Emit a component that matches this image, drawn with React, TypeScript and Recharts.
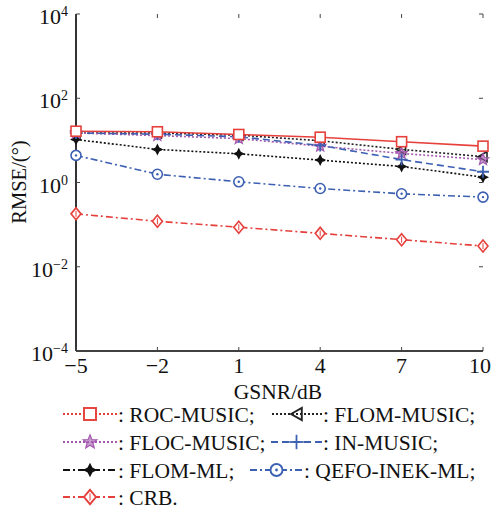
import { LineChart, Line, XAxis, YAxis } from 'recharts'

const gsnr = [-5, -2, 1, 4, 7, 10]
const rocMusic = [16.5, 16, 13.8, 11.9, 9.3, 7.3]
const flomMusic = [15, 15, 13.3, 9.8, 6.1, 4.1]
const flocMusic = [15, 13, 11, 7.3, 4.9, 3.5]
const inMusic = [15, 14, 12.2, 7.6, 3.5, 1.8]
const flomMl = [10.5, 6.1, 4.8, 3.4, 2.4, 1.34]
const qefoInekMl = [4.4, 1.57, 1.04, 0.72, 0.54, 0.45]
const crb = [0.18, 0.12, 0.087, 0.062, 0.044, 0.031]

const xTicks = [-5, -2, 1, 4, 7, 10]
const yTicks = [1e-4, 1e-2, 1, 1e2, 1e4]

const FONT = '"Liberation Serif", "Times New Roman", serif'

type Shape = 'square' | 'triangle' | 'star' | 'plus' | 'cross4' | 'circle' | 'diamond'

const series: { key: string, name: string, values: number[], color: string, dash: string, legendDash: string, shape: Shape }[] = [
  { key: 'crb', name: 'CRB.', values: crb, color: '#e5403c', dash: '7 3 2 3', legendDash: '7 3 2 3', shape: 'diamond' },
  { key: 'qefo', name: 'QEFO-INEK-ML;', values: qefoInekMl, color: '#3d60b3', dash: '7 3 2 3', legendDash: '7 3 2 3', shape: 'circle' },
  { key: 'flomMl', name: 'FLOM-ML;', values: flomMl, color: '#111111', dash: '2 2', legendDash: '7 3 2 3', shape: 'cross4' },
  { key: 'flomMusic', name: 'FLOM-MUSIC;', values: flomMusic, color: '#222222', dash: '2 2', legendDash: '2 2', shape: 'triangle' },
  { key: 'flocMusic', name: 'FLOC-MUSIC;', values: flocMusic, color: '#a45aae', dash: '2 2', legendDash: '2 2', shape: 'star' },
  { key: 'inMusic', name: 'IN-MUSIC;', values: inMusic, color: '#3d60b3', dash: '7 4', legendDash: '7 4', shape: 'plus' },
  { key: 'rocMusic', name: 'ROC-MUSIC;', values: rocMusic, color: '#e5403c', dash: '', legendDash: '2 2', shape: 'square' },
]

const data = gsnr.map((g, i) => {
  const row: Record<string, number> = { x: g }
  series.forEach(s => { row[s.key] = s.values[i] })
  return row
})

function Marker({ shape, x, y, color, s = 1 }: { shape: Shape, x: number, y: number, color: string, s?: number }) {
  const sw = 1.6 * s
  if (shape === 'square') return <rect x={x - 5 * s} y={y - 5 * s} width={10 * s} height={10 * s} fill="white" stroke={color} strokeWidth={sw} />
  if (shape === 'triangle') return <polygon points={`${x - 5 * s},${y} ${x + 4 * s},${y - 5 * s} ${x + 4 * s},${y + 5 * s}`} fill="none" stroke={color} strokeWidth={sw} />
  if (shape === 'star') {
    const pts: string[] = []
    for (let k = 0; k < 10; k++) {
      const r = (k % 2 === 0 ? 6 : 2.6) * s
      const a = -Math.PI / 2 + (k * Math.PI) / 5
      pts.push(`${x + r * Math.cos(a)},${y + r * Math.sin(a)}`)
    }
    return <polygon points={pts.join(' ')} fill={color} fillOpacity={0.6} stroke={color} strokeWidth={1.2} />
  }
  if (shape === 'plus') return <g stroke={color} strokeWidth={1.8}><line x1={x - 6 * s} y1={y} x2={x + 6 * s} y2={y} /><line x1={x} y1={y - 6 * s} x2={x} y2={y + 6 * s} /></g>
  if (shape === 'cross4') {
    const a = 6 * s, b = 2 * s
    return <polygon points={`${x},${y - a} ${x + b},${y - b} ${x + a},${y} ${x + b},${y + b} ${x},${y + a} ${x - b},${y + b} ${x - a},${y} ${x - b},${y - b}`} fill={color} />
  }
  if (shape === 'circle') return (
    <g>
      <circle cx={x} cy={y} r={5 * s} fill="white" stroke={color} strokeWidth={sw} />
      <circle cx={x} cy={y} r={1.2 * s} fill={color} />
    </g>
  )
  return (
    <g>
      <polygon points={`${x},${y - 6 * s} ${x + 5 * s},${y} ${x},${y + 6 * s} ${x - 5 * s},${y}`} fill="white" stroke={color} strokeWidth={sw} />
      <line x1={x} y1={y - 3 * s} x2={x} y2={y + 3 * s} stroke={color} strokeWidth={1} />
    </g>
  )
}

function XTick({ x, payload }: any) {
  const v = payload.value as number
  const label = v < 0 ? `\u2212${Math.abs(v)}` : String(v)
  const last = v === xTicks[xTicks.length - 1]
  return (
    <g>
      <line x1={x} y1={351} x2={x} y2={347} stroke="#444" strokeWidth={1} />
      <line x1={x} y1={14} x2={x} y2={18} stroke="#444" strokeWidth={1} />
      <text x={last ? 491 : x} y={373} textAnchor={last ? 'end' : 'middle'} fontFamily={FONT} fontSize={22} fill="#111">{label}</text>
    </g>
  )
}

function YTick({ y, payload }: any) {
  const v = payload.value as number
  const e = Math.round(Math.log10(v))
  const exp = e < 0 ? `\u2212${Math.abs(e)}` : String(e)
  return (
    <g>
      <line x1={76} y1={y} x2={80} y2={y} stroke="#444" strokeWidth={1} />
      <line x1={483} y1={y} x2={479} y2={y} stroke="#444" strokeWidth={1} />
      <text x={68} y={y + 10} textAnchor="end" fontFamily={FONT} fill="#111">
        <tspan fontSize={22}>10</tspan>
        <tspan fontSize={14} dy={-8}>{exp}</tspan>
      </text>
    </g>
  )
}

const legendRows = [
  [{ k: 'rocMusic', lx: 63, lw: 54 }, { k: 'flomMusic', lx: 272, lw: 50 }],
  [{ k: 'flocMusic', lx: 63, lw: 54 }, { k: 'inMusic', lx: 271, lw: 51 }],
  [{ k: 'flomMl', lx: 63, lw: 54 }, { k: 'qefo', lx: 250, lw: 53 }],
  [{ k: 'crb', lx: 63, lw: 54 }],
]
const legendRowY = [414, 442, 470, 497]

function LegendBlock() {
  return (
    <svg width={492} height={110} style={{ position: 'absolute', left: 0, top: 400 }}>
      {legendRows.map((row, ri) => row.map(item => {
        const s = series.find(ss => ss.key === item.k)!
        const y = legendRowY[ri] - 400
        const cx = item.lx + item.lw / 2
        return (
          <g key={item.k}>
            <line x1={item.lx} y1={y} x2={item.lx + item.lw} y2={y} stroke={s.color} strokeWidth={2} strokeDasharray={s.legendDash} />
            <Marker shape={s.shape} x={cx} y={y} color={s.color} s={1.2} />
            <text x={item.lx + item.lw + 1} y={y + 8} fontFamily={FONT} fontSize={21.5} fill="#111">{`: ${s.name}`}</text>
          </g>
        )
      }))}
    </svg>
  )
}

export default function App() {
  return (
    <div style={{ position: 'absolute', left: 0, top: 0, width: 492, height: 510, background: '#fff' }}>
      <LineChart width={492} height={402} data={data} margin={{ top: 14, right: 9, left: 0, bottom: 0 }}>
        <XAxis
          dataKey="x"
          type="number"
          domain={[-5, 10]}
          ticks={xTicks}
          height={51}
          tickSize={0}
          tickMargin={6}
          axisLine={{ stroke: '#000', strokeWidth: 1.6 }}
          tick={<XTick />}
        />
        <XAxis xAxisId="top" orientation="top" dataKey="x" type="number" domain={[-5, 10]} height={0} tick={false} axisLine={{ stroke: '#000', strokeWidth: 1.6 }} />
        <YAxis
          scale="log"
          type="number"
          domain={[1e-4, 1e4]}
          ticks={yTicks}
          allowDataOverflow
          width={76}
          tickSize={0}
          tickMargin={8}
          axisLine={{ stroke: '#000', strokeWidth: 1.6 }}
          tick={<YTick />}
          label={() => (
            <text x={26} y={182} transform="rotate(-90 26 182)" textAnchor="middle" fontFamily={FONT} fontSize={20.5} fill="#111">RMSE/(°)</text>
          )}
        />
        <YAxis yAxisId="right" orientation="right" scale="log" type="number" domain={[1e-4, 1e4]} width={0} tick={false} axisLine={{ stroke: '#000', strokeWidth: 1.6 }} />
        {series.map(s => (
          <Line
            key={s.key}
            dataKey={s.key}
            type="linear"
            stroke={s.color}
            strokeWidth={1.6}
            strokeDasharray={s.dash || undefined}
            isAnimationActive={false}
            dot={(p: any) => <Marker key={`${s.key}-${p.index}`} shape={s.shape} x={p.cx} y={p.cy} color={s.color} />}
            activeDot={false}
          />
        ))}
      </LineChart>
      <svg width={492} height={28} style={{ position: 'absolute', left: 0, top: 378 }}>
        <text x={278} y={21} textAnchor="middle" fontFamily={FONT} fontSize={21.5} fill="#111">GSNR/dB</text>
      </svg>
      <LegendBlock />
    </div>
  )
}
